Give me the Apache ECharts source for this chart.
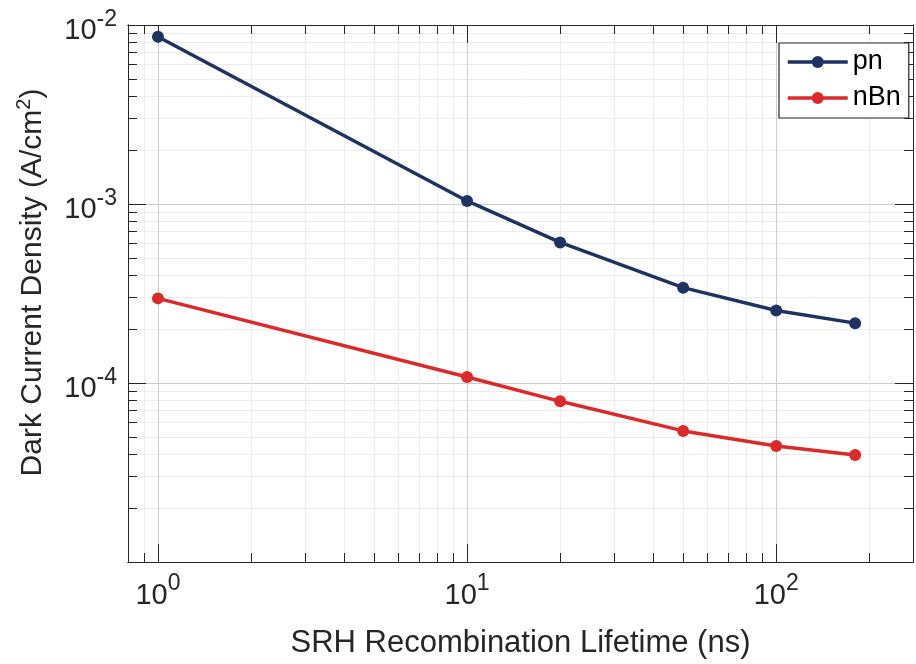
<!DOCTYPE html>
<html>
<head>
<meta charset="utf-8">
<title>Dark current density vs SRH lifetime</title>
<script src="https://cdn.jsdelivr.net/npm/echarts@6/dist/echarts.min.js"></script>
<style>
  html, body { margin: 0; padding: 0; background: #fff; }
  #chart { width: 916px; height: 664px; }
</style>
</head>
<body>
<div id="chart"></div>
<script>
// SRH lifetime (ns)
const lifetimes = [1, 10, 20, 50, 100, 180];
// Dark current density (A/cm^2)
const pnValues  = [8.6e-3, 1.04e-3, 6.1e-4, 3.41e-4, 2.54e-4, 2.16e-4];
const nBnValues = [2.97e-4, 1.08e-4, 7.9e-5, 5.4e-5, 4.45e-5, 3.96e-5];

const seriesNames = ['pn', 'nBn'];
const seriesColors = ['#1f3264', '#dc2a2a'];

// axis ranges
const xRange = [0.8, 277];
const yRange = [1e-5, 1e-2];

// tick positions
const xMajorTicks = [1, 10, 100];
const xMinorTicks = [0.9, 2, 3, 4, 5, 6, 7, 8, 9, 20, 30, 40, 50, 60, 70, 80, 90, 200];
const yMajorTicks = [1e-5, 1e-4, 1e-3, 1e-2];
const yMinorTicks = [2e-5, 3e-5, 4e-5, 5e-5, 6e-5, 7e-5, 8e-5, 9e-5,
                     2e-4, 3e-4, 4e-4, 5e-4, 6e-4, 7e-4, 8e-4, 9e-4,
                     2e-3, 3e-3, 4e-3, 5e-3, 6e-3, 7e-3, 8e-3, 9e-3];

// tick labels: base 10 with exponent
const xLabelValues = [1, 10, 100];
const xLabelExps = ['0', '1', '2'];
const yLabelValues = [1e-4, 1e-3, 1e-2];
const yLabelExps = ['-4', '-3', '-2'];

const FONT = "'Liberation Sans', Arial, Helvetica, sans-serif";
const INK = '#262626';

function powerLabel(values, exps) {
  return function (v) {
    for (let i = 0; i < values.length; i++) {
      if (Math.abs(Math.log10(v) - Math.log10(values[i])) < 1e-6) {
        return '{b|10}{s|' + exps[i] + '}';
      }
    }
    return '';
  };
}

const labelRich = {
  b: { fontSize: 29, lineHeight: 29, color: INK, fontFamily: FONT, padding: [12, 0, 0, 0] },
  s: { fontSize: 23, lineHeight: 23, color: INK, fontFamily: FONT, padding: [0, 0, 11, 0] }
};

function frameAxis(opts) {
  const major = opts.major;
  return Object.assign({
    type: 'log',
    logBase: 10,
    axisLine: { show: true, onZero: false, lineStyle: { color: INK, width: 1 } },
    axisTick: {
      show: true, inside: true, customValues: opts.ticks,
      length: major ? 18 : 9, lineStyle: { color: INK, width: 1 }
    },
    axisLabel: { show: false },
    splitLine: {
      show: !!opts.grid, lineStyle: { color: major ? '#cdcdcd' : '#ececec', width: 1 }
    },
    minorTick: { show: false },
    minorSplitLine: { show: false }
  }, opts.extra || {});
}

const xAxes = [
  frameAxis({
    major: true, ticks: xMajorTicks, grid: true,
    extra: {
      position: 'bottom', min: xRange[0], max: xRange[1],
      axisLabel: {
        show: true, customValues: xLabelValues, margin: 13,
        formatter: powerLabel(xLabelValues, xLabelExps), rich: labelRich
      },
      name: 'SRH Recombination Lifetime (ns)',
      nameLocation: 'middle', nameGap: 66,
      nameTextStyle: { fontSize: 31, color: INK, fontFamily: FONT }
    }
  }),
  frameAxis({ major: true, ticks: xMajorTicks, extra: { position: 'top', min: xRange[0], max: xRange[1] } }),
  frameAxis({ major: false, ticks: xMinorTicks, grid: true, extra: { position: 'bottom', min: xRange[0], max: xRange[1] } }),
  frameAxis({ major: false, ticks: xMinorTicks, extra: { position: 'top', min: xRange[0], max: xRange[1] } })
];

const yAxes = [
  frameAxis({
    major: true, ticks: yMajorTicks, grid: true,
    extra: {
      position: 'left', min: yRange[0], max: yRange[1],
      axisLabel: {
        show: true, customValues: yLabelValues, margin: 11,
        formatter: powerLabel(yLabelValues, yLabelExps), rich: labelRich
      },
      name: '{t|Dark Current Density (A/cm}{u|2}{t|)}',
      nameLocation: 'middle', nameGap: 84,
      nameTextStyle: {
        color: INK, fontFamily: FONT,
        padding: [0, 0, 0, 22],
        rich: {
          t: { fontSize: 30, lineHeight: 30, color: INK, fontFamily: FONT, padding: [8, 0, 0, 0] },
          u: { fontSize: 20, lineHeight: 20, color: INK, fontFamily: FONT, padding: [0, 0, 10, 0] }
        }
      }
    }
  }),
  frameAxis({ major: true, ticks: yMajorTicks, extra: { position: 'right', min: yRange[0], max: yRange[1] } }),
  frameAxis({ major: false, ticks: yMinorTicks, grid: true, extra: { position: 'left', min: yRange[0], max: yRange[1] } }),
  frameAxis({ major: false, ticks: yMinorTicks, extra: { position: 'right', min: yRange[0], max: yRange[1] } })
];

function pairs(xs, ys) {
  return xs.map((x, i) => [x, ys[i]]);
}

const allValues = [pnValues, nBnValues];

const chart = echarts.init(document.getElementById('chart'), null, { renderer: 'canvas' });
chart.setOption({
  animation: false,
  backgroundColor: '#ffffff',
  textStyle: { fontFamily: FONT },
  grid: { left: 128, right: 3, top: 25, bottom: 102, containLabel: false },
  xAxis: xAxes,
  yAxis: yAxes,
  legend: {
    data: seriesNames,
    orient: 'vertical',
    left: 779, top: 43,
    padding: [5, 8, 6, 7],
    itemWidth: 60, itemHeight: 15, itemGap: 8,
    lineStyle: { width: 3.5 },
    borderColor: INK, borderWidth: 1.2, borderRadius: 0,
    backgroundColor: '#ffffff',
    textStyle: { fontSize: 27, lineHeight: 28, color: '#000000', fontFamily: FONT }
  },
  series: seriesNames.map((name, k) => ({
    name: name,
    type: 'line',
    xAxisIndex: 0,
    yAxisIndex: 0,
    data: pairs(lifetimes, allValues[k]),
    symbol: 'circle',
    symbolSize: 12,
    color: seriesColors[k],
    lineStyle: { width: 3.5, color: seriesColors[k] },
    itemStyle: { color: seriesColors[k] },
    z: 3
  }))
});
</script>
</body>
</html>
